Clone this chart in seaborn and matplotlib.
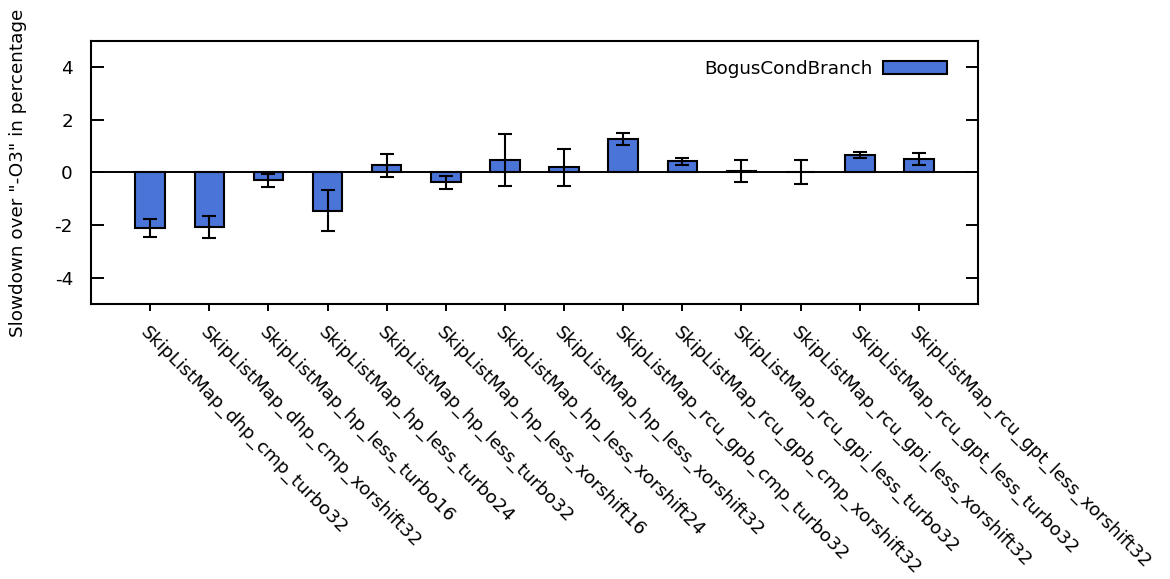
import matplotlib
matplotlib.use("Agg")
import matplotlib.pyplot as plt
import seaborn as sns
import pandas as pd
import numpy as np

categories = [
    "SkipListMap_dhp_cmp_turbo32",
    "SkipListMap_dhp_cmp_xorshift32",
    "SkipListMap_hp_less_turbo16",
    "SkipListMap_hp_less_turbo24",
    "SkipListMap_hp_less_turbo32",
    "SkipListMap_hp_less_xorshift16",
    "SkipListMap_hp_less_xorshift24",
    "SkipListMap_hp_less_xorshift32",
    "SkipListMap_rcu_gpb_cmp_turbo32",
    "SkipListMap_rcu_gpb_cmp_xorshift32",
    "SkipListMap_rcu_gpi_less_turbo32",
    "SkipListMap_rcu_gpi_less_xorshift32",
    "SkipListMap_rcu_gpt_less_turbo32",
    "SkipListMap_rcu_gpt_less_xorshift32",
]
values = [-2.11, -2.08, -0.29, -1.45, 0.27, -0.38, 0.47, 0.19, 1.27, 0.42, 0.06, 0.01, 0.65, 0.50]
errors = [0.35, 0.43, 0.25, 0.79, 0.45, 0.24, 0.98, 0.71, 0.24, 0.14, 0.43, 0.45, 0.11, 0.23]
series_name = "BogusCondBranch"

df = pd.DataFrame({"cat": categories, "val": values, "err": errors})

sns.set_theme(style="white")
plt.rcParams["font.family"] = ["DejaVu Sans"]
plt.rcParams["text.color"] = "black"
plt.rcParams["axes.labelcolor"] = "black"
plt.rcParams["xtick.color"] = "black"
plt.rcParams["ytick.color"] = "black"

FS = 13.2

fig = plt.figure(figsize=(11.70, 5.79), dpi=100)
ax = fig.add_axes([0.0778, 0.4750, 0.7581, 0.4542])

color = "#4A74D8"
sns.barplot(data=df, x="cat", y="val", color=color, width=0.5, errorbar=None,
            edgecolor="black", linewidth=1.5, ax=ax, label=series_name, zorder=2)
for p in ax.patches:
    p.set_facecolor(color)
    p.set_alpha(1)

xpos = np.arange(len(categories))
ax.errorbar(xpos, df["val"], yerr=df["err"], fmt="none", ecolor="black",
            elinewidth=1.5, capsize=4.7, capthick=1.5, zorder=3)

ax.axhline(0, color="black", linewidth=1.4, zorder=2.5)

ax.set_xlim(-1, 14)
ax.set_ylim(-5, 5)
ax.set_yticks([-4, -2, 0, 2, 4])
ax.set_yticklabels(["-4", "-2", "0", "2", "4"], fontsize=FS)
ax.set_xticks(xpos)
ax.set_xticklabels(categories, rotation=-45, ha="left", va="top",
                   rotation_mode="anchor", fontsize=FS)
ax.set_xlabel("")
ax.set_ylabel("Slowdown over \"-O3\" in percentage", fontsize=FS, color="black")
ax.yaxis.set_label_coords(-0.072, 0.5)

ax.tick_params(axis="y", direction="in", length=9, width=1.4, left=True, right=True, pad=13, colors="black")
ax.tick_params(axis="x", direction="out", length=5, width=1.4, bottom=True, top=False, pad=9, colors="black")
for s in ax.spines.values():
    s.set_color("black")
    s.set_linewidth(1.5)

handles, labels = ax.get_legend_handles_labels()
leg = ax.legend(handles[:1], [series_name], loc="upper right", frameon=False, fontsize=FS,
                markerfirst=False, handlelength=3.5, handleheight=0.7, handletextpad=0.6,
                bbox_to_anchor=(0.978, 0.97), borderaxespad=0.2)
for t in leg.get_texts():
    t.set_color("black")

fig.savefig("out.png", dpi=100)
